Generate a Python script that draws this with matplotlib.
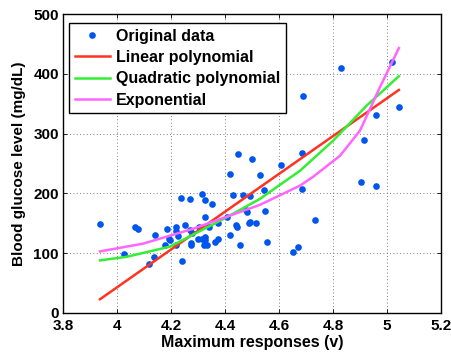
import numpy as np
import matplotlib
matplotlib.use("Agg")
import matplotlib.pyplot as plt

# measured points (max response in V, blood glucose in mg/dL)
resp = [3.937, 4.027, 4.068, 4.078, 4.120, 4.136, 4.141, 4.178, 4.186, 4.191,
        4.196, 4.217, 4.217, 4.217, 4.227, 4.237, 4.242, 4.251, 4.269, 4.270,
        4.273, 4.275, 4.277, 4.301, 4.305, 4.314, 4.314, 4.321, 4.326, 4.326,
        4.327, 4.327, 4.334, 4.342, 4.352, 4.363, 4.375, 4.375, 4.406, 4.417,
        4.419, 4.428, 4.441, 4.446, 4.448, 4.456, 4.466, 4.478, 4.480, 4.489,
        4.493, 4.494, 4.499, 4.514, 4.531, 4.545, 4.548, 4.554, 4.606, 4.653,
        4.669, 4.686, 4.687, 4.688, 4.733, 4.829, 4.902, 4.914, 4.959, 4.959,
        5.017, 5.044]
glucose = [149, 99, 143, 141, 82, 93, 131, 114, 141, 124,
           122, 143, 137, 113, 128, 193, 87, 147, 191, 138,
           117, 113, 134, 124, 144, 199, 124, 113, 127, 122,
           189, 161, 113, 144, 183, 119, 150, 123, 160, 130,
           233, 197, 147, 144, 266, 113, 197, 173, 169, 150,
           195, 152, 257, 151, 231, 206, 170, 119, 247, 102,
           111, 208, 268, 363, 156, 410, 219, 290, 213, 331,
           419, 344]

# fitted curves
lin_x = [3.937, 5.044]
lin_y = [23, 373]
quad_x = [3.937, 4.036, 4.196, 4.406, 4.530, 4.678, 4.800, 4.925, 5.044]
quad_y = [88, 94, 111, 160, 191, 238, 288, 347, 396]
exp_x = [3.937, 4.097, 4.283, 4.530, 4.678, 4.727, 4.826, 4.900, 4.968, 5.044]
exp_y = [103, 116, 141, 181, 213, 228, 263, 305, 372, 443]

plt.rcParams['font.family'] = ['Liberation Sans', 'DejaVu Sans']
plt.rcParams['font.weight'] = 'bold'
plt.rcParams['font.size'] = 11

fig = plt.figure(figsize=(4.52, 3.55), dpi=100)
ax = fig.add_axes([63/452, 1-313/355, 378/452, 299/355])

ax.plot(resp, glucose, 'o', color='#0055ee', markersize=4.8, markeredgewidth=0,
        label='Original data')
ax.plot(lin_x, lin_y, color='#ff3322', lw=1.8, label='Linear polynomial')
ax.plot(quad_x, quad_y, color='#33ee33', lw=1.8, label='Quadratic polynomial')
ax.plot(exp_x, exp_y, color='#ff66ff', lw=1.8, label='Exponential')

ax.set_xlim(3.8, 5.2)
ax.set_ylim(0, 500)
ax.set_xticks(np.arange(3.8, 5.21, 0.2))
ax.set_xticklabels(['3.8', '4', '4.2', '4.4', '4.6', '4.8', '5', '5.2'],
                   fontweight='bold')
ax.set_yticks(range(0, 501, 100))
ax.set_yticklabels([str(v) for v in range(0, 501, 100)], fontweight='bold')
ax.grid(True, linestyle=(0, (1, 3)), color='#555555', linewidth=0.6)
ax.tick_params(direction='in', top=True, right=True, length=3, width=0.6,
               labelsize=11)
ax.tick_params(axis='x', pad=4)
ax.tick_params(axis='y', pad=3)
for s in ax.spines.values():
    s.set_linewidth(1.0)

ax.set_xlabel('Maximum responses (v)', fontweight='bold', fontsize=11.5,
              labelpad=2)
ax.set_ylabel('Blood glucose level (mg/dL)', fontweight='bold', fontsize=11,
              labelpad=5)

leg = ax.legend(loc='upper left', bbox_to_anchor=(0.016, 0.970), fancybox=False,
                edgecolor='black', framealpha=1, borderpad=0.35, labelspacing=0.4,
                handlelength=2.2, handletextpad=0.38, borderaxespad=0,
                prop={'weight': 'bold', 'size': 11.5})
leg.get_frame().set_linewidth(1.0)

fig.savefig('out.png', dpi=100)
